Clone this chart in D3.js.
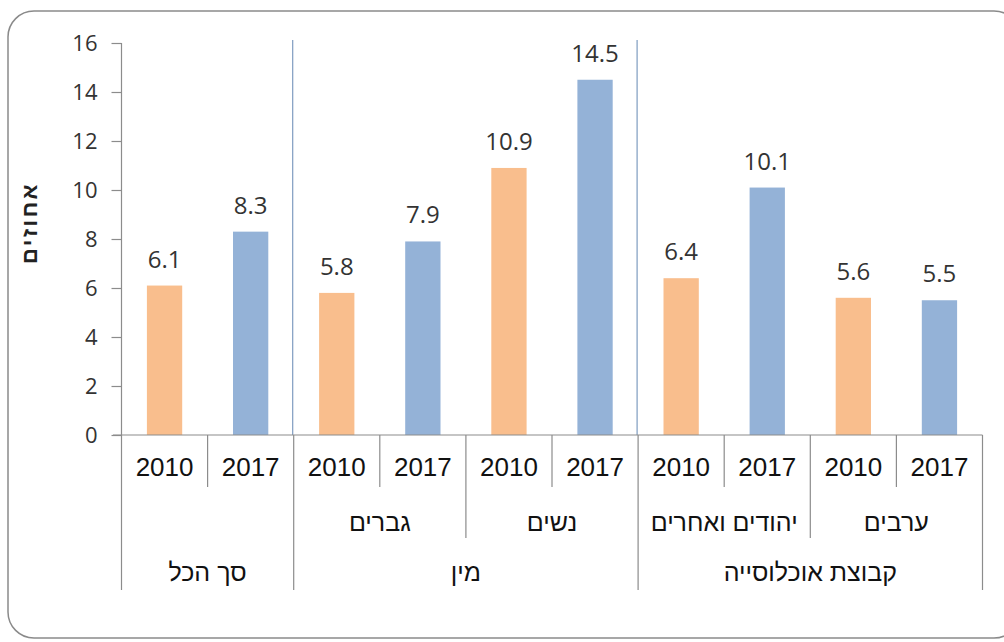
<!DOCTYPE html>
<html lang="he">
<head>
<meta charset="utf-8">
<script src="https://cdn.jsdelivr.net/npm/d3@7"></script>
<style>
  html, body { margin: 0; padding: 0; background: #fff; }
  svg { display: block; }
</style>
</head>
<body>
<svg id="chart" width="1004" height="642"></svg>
<script>
// ---- data ----
const groups = ["סך הכל", "מין", "קבוצת אוכלוסייה"];
const subgroups = ["", "גברים", "נשים", "יהודים ואחרים", "ערבים"];
const subgroupParent = [0, 1, 1, 2, 2];
const years = ["2010", "2017"];
const values2010 = [6.1, 5.8, 10.9, 6.4, 5.6];
const values2017 = [8.3, 7.9, 14.5, 10.1, 5.5];
const yTicks = [0, 2, 4, 6, 8, 10, 12, 14, 16];
const yTitle = "אחוזים";
const colors = { "2010": "#F9BE8D", "2017": "#94B2D7" };

(function () {
// build flat category table
const cells = [];
subgroups.forEach((sg, i) => {
  years.forEach((yr, j) => {
    cells.push({ key: i + "-" + yr, sub: i, group: subgroupParent[i], year: yr,
                 value: yr === "2010" ? values2010[i] : values2017[i] });
  });
});

const svg = d3.select("#chart");
const pLeft = 121.5, pRight = 982.5, pTop = 43, pBottom = 435;

// frame
svg.append("rect")
  .attr("x", 8).attr("y", 11).attr("width", 1012).attr("height", 627)
  .attr("rx", 26).attr("ry", 26)
  .attr("fill", "#fff").attr("stroke", "#8a8a8a").attr("stroke-width", 1.5);

const x = d3.scaleBand().domain(cells.map(d => d.key)).range([pLeft, pRight]).padding(0);
const y = d3.scaleLinear().domain([0, 16]).range([pBottom, pTop]);
const bw = x.bandwidth();

// group extents
const groupStarts = [];
groups.forEach((g, gi) => {
  const gc = cells.filter(c => c.group === gi);
  groupStarts.push({ gi, x0: x(gc[0].key), x1: x(gc[gc.length - 1].key) + bw });
});
// group separators inside plot (blue)
groupStarts.slice(1).forEach(g => {
  svg.append("line")
    .attr("x1", g.x0 - 1).attr("x2", g.x0 - 1).attr("y1", 40).attr("y2", pBottom)
    .attr("stroke", "#7F9CC0").attr("stroke-width", 1.2);
});

// bars
const barW = bw * 0.41;
svg.append("g").selectAll("rect").data(cells).join("rect")
  .attr("x", d => x(d.key) + (bw - barW) / 2)
  .attr("y", d => y(d.value))
  .attr("width", barW)
  .attr("height", d => y(0) - y(d.value))
  .attr("fill", d => colors[d.year]);

// data labels
svg.append("g").selectAll("text").data(cells).join("text")
  .attr("x", d => x(d.key) + bw / 2)
  .attr("y", d => y(d.value) - 18)
  .attr("text-anchor", "middle")
  .attr("font-family", "'Open Sans', sans-serif")
  .attr("font-size", 24)
  .attr("fill", "#333")
  .text(d => d.value.toFixed(1));

// y axis
const yAxis = d3.axisLeft(y).tickValues(yTicks).tickSize(10).tickPadding(14).tickFormat(d3.format("d"));
const yg = svg.append("g").attr("transform", `translate(${pLeft},0)`).call(yAxis);
yg.select(".domain").attr("stroke", "#8c8c8c").attr("stroke-width", 1.2).attr("d", `M0,${pTop}V${pBottom}`);
yg.selectAll(".tick line").attr("stroke", "#8c8c8c").attr("stroke-width", 1.2);
yg.selectAll(".tick text")
  .attr("font-family", "'Open Sans', sans-serif")
  .attr("font-size", 22)
  .attr("fill", "#333");

// y title
svg.append("text")
  .attr("transform", "translate(37,223) rotate(-90)")
  .attr("text-anchor", "middle")
  .attr("font-family", "'Liberation Sans', Arial, sans-serif")
  .attr("font-weight", "bold")
  .attr("font-size", 22)
  .attr("letter-spacing", 2.5)
  .attr("fill", "#222")
  .text(yTitle);

// x baseline
svg.append("line")
  .attr("x1", 113).attr("x2", pRight).attr("y1", pBottom).attr("y2", pBottom)
  .attr("stroke", "#8c8c8c").attr("stroke-width", 1.2);

const lineCol = "#8c8c8c";
const yearBottom = 487, subBottom = 538, groupBottom = 590;

// year labels
svg.append("g").selectAll("text").data(cells).join("text")
  .attr("x", d => x(d.key) + bw / 2)
  .attr("y", 476)
  .attr("text-anchor", "middle")
  .attr("font-family", "'Liberation Sans', Arial, sans-serif")
  .attr("font-size", 26)
  .attr("fill", "#111")
  .text(d => d.year);

// separators between year cells
cells.forEach((c, i) => {
  const xb = x(c.key);
  let y2 = yearBottom;
  if (i === 0 || cells[i - 1].group !== c.group) y2 = groupBottom;
  else if (cells[i - 1].sub !== c.sub) y2 = subBottom;
  svg.append("line").attr("x1", xb).attr("x2", xb).attr("y1", pBottom).attr("y2", y2)
    .attr("stroke", lineCol).attr("stroke-width", 1.2);
});
svg.append("line").attr("x1", pRight).attr("x2", pRight).attr("y1", pBottom).attr("y2", groupBottom)
  .attr("stroke", lineCol).attr("stroke-width", 1.2);

// subgroup labels
subgroups.forEach((sg, i) => {
  if (!sg) return;
  const sc = cells.filter(c => c.sub === i);
  const cx = (x(sc[0].key) + x(sc[sc.length - 1].key) + bw) / 2;
  svg.append("text").attr("x", cx).attr("y", 531)
    .attr("text-anchor", "middle")
    .attr("font-family", "'Liberation Sans', Arial, sans-serif")
    .attr("font-size", 25).attr("fill", "#111")
    .text(sg);
});

// group labels
groupStarts.forEach(g => {
  svg.append("text").attr("x", (g.x0 + g.x1) / 2).attr("y", 581)
    .attr("text-anchor", "middle")
    .attr("font-family", "'Liberation Sans', Arial, sans-serif")
    .attr("font-size", 25).attr("fill", "#111")
    .text(groups[g.gi]);
});
})();
</script>
</body>
</html>
